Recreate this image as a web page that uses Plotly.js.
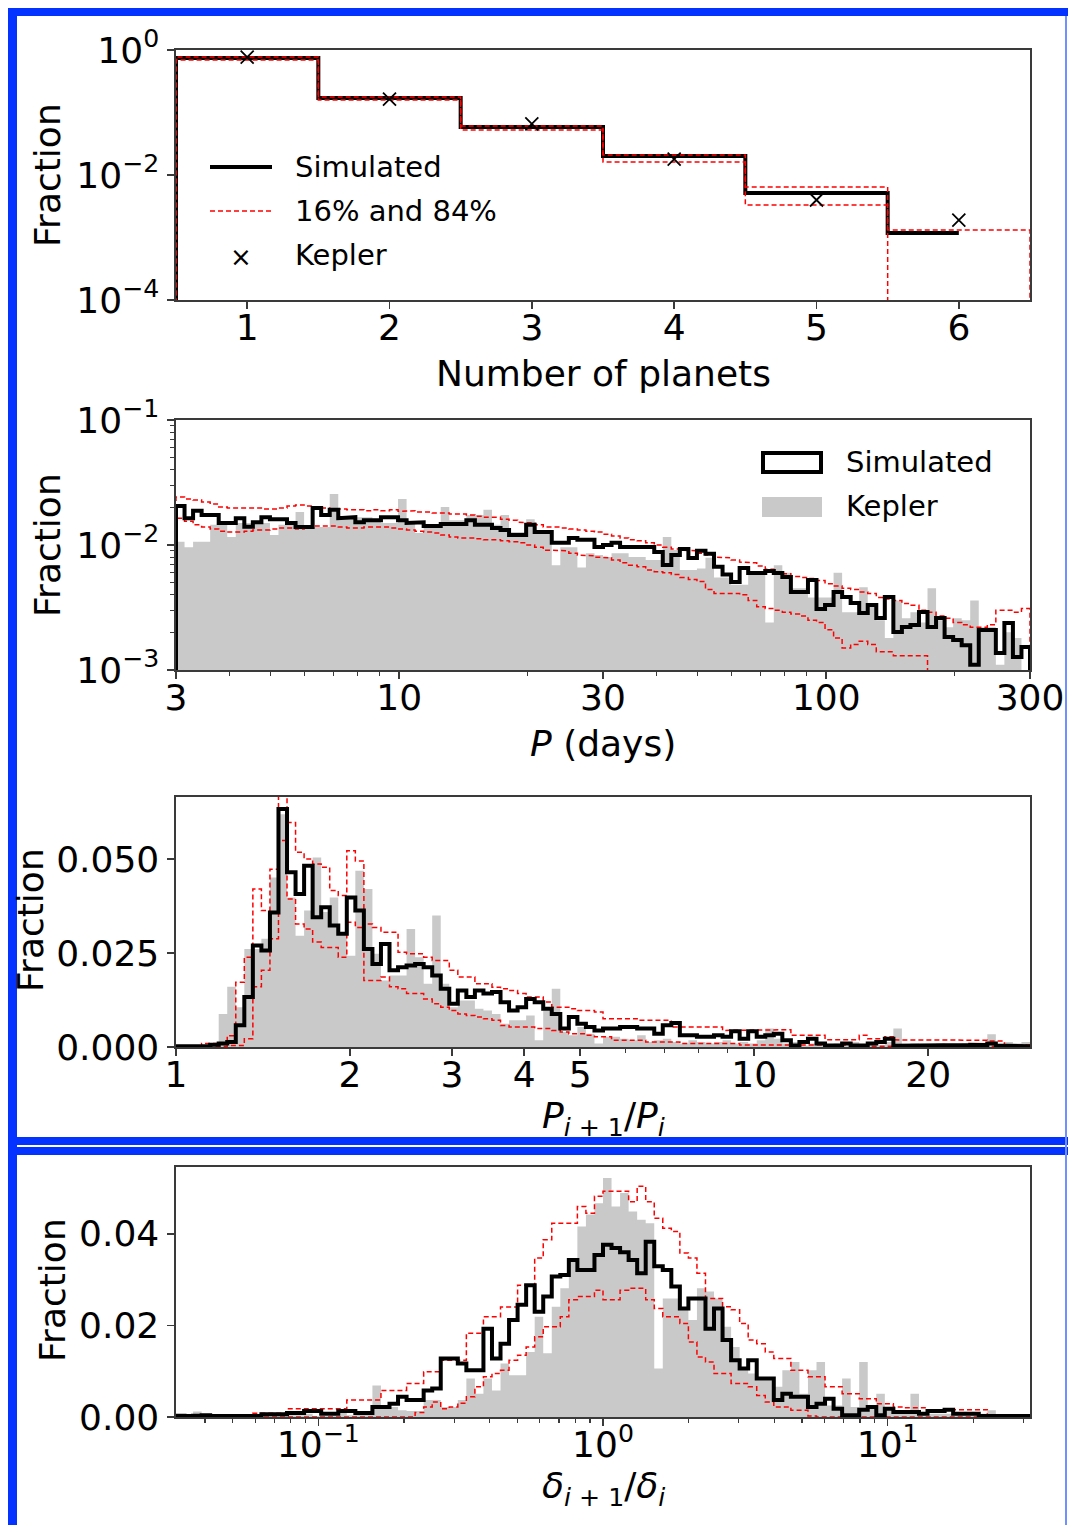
<!DOCTYPE html>
<html><head><meta charset="utf-8">
<script src="https://cdn.plot.ly/plotly-3.0.1.min.js"></script>
<style>html,body{margin:0;padding:0;background:#fff;}#chart{width:1068px;height:1525px;}</style>
</head><body><div id="chart"></div>
<script>
// ---------------- Panel 1: multiplicity ----------------
const nPlanets = [1, 2, 3, 4, 5, 6];
const multSim    = [0.745, 0.170, 0.0586, 0.0201, 0.00515, 0.00118];
const multP84    = [0.770, 0.177, 0.0608, 0.0209, 0.00643, 0.00132];
const multP16    = [0.690, 0.158, 0.0525, 0.0161, 0.00330, 0];
const multKepler = [0.770, 0.164, 0.0655, 0.0180, 0.00398, 0.0019];

// ---------------- Panel 2: periods (100 log bins, 3-300 d) ----------------
const periodRange = [3, 300];
const periodSim = [
0.0205,0.0164,0.0188,0.0174,0.0174,0.0150,0.0150,0.0164,0.0140,0.0152,
0.0167,0.0161,0.0161,0.0150,0.0139,0.0139,0.0198,0.0174,0.0191,0.0164,
0.0167,0.0152,0.0158,0.0158,0.0167,0.0167,0.0158,0.0150,0.0152,0.0142,
0.0142,0.0147,0.0147,0.0147,0.0158,0.0145,0.0145,0.0137,0.0132,0.0120,
0.0120,0.0145,0.0127,0.0127,0.0104,0.0104,0.0114,0.0110,0.0110,0.00964,
0.0100,0.0104,0.00964,0.00964,0.00964,0.00964,0.00879,0.00692,0.00832,0.00929,
0.00787,0.0090,0.0085,0.0067,0.0058,0.00506,0.00655,0.00597,0.00597,0.00619,
0.00597,0.00555,0.00421,0.00421,0.00525,0.00308,0.00331,0.00421,0.00384,0.00344,
0.00286,0.00331,0.00261,0.00384,0.00201,0.00221,0.00229,0.00291,0.00221,0.00261,
0.00184,0.00174,0.00158,0.00110,0.00209,0.00209,0.00137,0.00238,0.00127,0.00153];
const periodP84 = [
0.0242,0.0233,0.0229,0.0221,0.0213,0.0201,0.0198,0.0198,0.0198,0.0198,
0.0194,0.0194,0.0198,0.0205,0.0209,0.0205,0.0198,0.0198,0.0194,0.0194,
0.0191,0.0191,0.0188,0.0191,0.0188,0.0191,0.0186,0.0188,0.0184,0.0184,
0.0180,0.0180,0.0177,0.0177,0.0174,0.0170,0.0167,0.0167,0.0161,0.0158,
0.0152,0.0150,0.0145,0.0139,0.0139,0.0137,0.0134,0.0132,0.0129,0.0127,
0.0122,0.0118,0.0114,0.0110,0.0108,0.0104,0.0100,0.0096,0.0093,0.0091,
0.0090,0.0086,0.0083,0.0080,0.0079,0.0076,0.0073,0.0072,0.0068,0.0064,
0.0061,0.0059,0.0056,0.0055,0.0054,0.0052,0.0049,0.0047,0.0045,0.0044,
0.0042,0.0041,0.0038,0.0037,0.0036,0.0034,0.0033,0.0030,0.0029,0.0027,
0.0026,0.0024,0.0023,0.0022,0.0022,0.0023,0.0030,0.0030,0.0029,0.0031];
const periodP16 = [
0.0164,0.0155,0.0145,0.0139,0.0134,0.0129,0.0127,0.0127,0.0129,0.0132,
0.0132,0.0134,0.0137,0.0137,0.0134,0.0137,0.0142,0.0142,0.0142,0.0139,
0.0137,0.0137,0.0139,0.0139,0.0139,0.0137,0.0134,0.0132,0.0129,0.0127,
0.0125,0.0120,0.0116,0.0114,0.0114,0.0112,0.0110,0.0110,0.0108,0.0106,
0.0104,0.0100,0.0096,0.0091,0.0091,0.0090,0.0086,0.0083,0.0082,0.0080,
0.0079,0.0076,0.0072,0.0069,0.0067,0.0063,0.0061,0.0060,0.0058,0.0055,
0.0053,0.0051,0.0044,0.0041,0.0041,0.0041,0.0040,0.0036,0.0032,0.0031,
0.0030,0.0029,0.0028,0.0027,0.0025,0.0024,0.0021,0.0018,0.0015,0.0016,
0.0017,0.0016,0.0014,0.0014,0.0013,0.0013,0.0013,0.0013,0,0,
0,0,0,0,0,0,0,0,0,0];
const periodKepler = [
0.0106,0.0096,0.0106,0.0106,0.0145,0.0145,0.0116,0.0150,0.0150,0.0150,
0.0150,0.0120,0.0145,0.0145,0.0184,0.0139,0.0139,0.0139,0.0256,0.0164,
0.0164,0.0167,0.0167,0.0158,0.0150,0.0150,0.0233,0.0150,0.0125,0.0145,
0.0145,0.0201,0.0158,0.0158,0.0174,0.0174,0.0191,0.0145,0.0174,0.0127,
0.0127,0.0161,0.0127,0.0127,0.0069,0.0096,0.0096,0.0066,0.0086,0.0083,
0.0080,0.0086,0.0086,0.0080,0.0080,0.0076,0.0076,0.0116,0.0091,0.0063,
0.0063,0.0065,0.0079,0.0055,0.0055,0.0048,0.0048,0.0060,0.0060,0.0024,
0.0069,0.0060,0.0045,0.0045,0.0038,0.0038,0.0038,0.0060,0.0029,0.0029,
0.0046,0.0032,0.0025,0.0018,0.0036,0.0026,0.0029,0.0024,0.0045,0.0025,
0.0022,0.0026,0.0025,0.0036,0.0022,0.0022,0.0011,0.0020,0.0018,0.0010];

// ---------------- Panel 3: period ratios (100 log bins, 1-30) ----------------
const ratioRange = [1, 30];
const ratioSim = [
0.0002,0.0002,0.0002,0.0002,0.0006,0.0009,0.0013,0.0058,0.0133,0.0270,
0.0257,0.0358,0.0633,0.0465,0.0407,0.0482,0.0345,0.0372,0.0323,0.0301,
0.0398,0.0363,0.0261,0.0221,0.0274,0.0204,0.0212,0.0217,0.0221,0.0212,
0.0190,0.0155,0.0115,0.0150,0.0133,0.0150,0.0142,0.0146,0.0119,0.0097,
0.0106,0.0128,0.0119,0.0102,0.0088,0.0049,0.0080,0.0062,0.0053,0.0044,
0.0049,0.0049,0.0053,0.0053,0.0049,0.0049,0.0035,0.0058,0.0064,0.0031,
0.0031,0.0027,0.0027,0.0031,0.0027,0.0042,0.0022,0.0042,0.0027,0.0031,
0.0035,0.0018,0.0004,0.0013,0.0022,0.0009,0.0004,0.0004,0.0009,0.0004,
0.0004,0.0009,0.0013,0.0022,0.0003,0.0004,0.0004,0.0004,0.0005,0.0004,
0.0004,0.0004,0.0005,0.0006,0.0005,0.0009,0.0004,0.0003,0.0003,0.0002];
const ratioP84 = [
0.0002,0.0002,0.0003,0.0009,0.0009,0.0009,0.0030,0.0172,0.0239,0.0420,
0.0363,0.0473,0.0680,0.0597,0.0518,0.0500,0.0487,0.0478,0.0416,0.0403,
0.0522,0.0495,0.0327,0.0318,0.0305,0.0305,0.0252,0.0248,0.0248,0.0239,
0.0230,0.0230,0.0204,0.0186,0.0186,0.0168,0.0168,0.0159,0.0155,0.0150,
0.0142,0.0133,0.0133,0.0120,0.0106,0.0106,0.0102,0.0097,0.0097,0.0093,
0.0075,0.0075,0.0075,0.0075,0.0071,0.0071,0.0071,0.0071,0.0053,0.0053,
0.0053,0.0053,0.0053,0.0053,0.0044,0.0044,0.0044,0.0044,0.0044,0.0044,
0.0046,0.0046,0.0031,0.0031,0.0031,0.0031,0.0019,0.0019,0.0019,0.0019,
0.0031,0.0022,0.0022,0.0027,0.0019,0.0019,0.0019,0.0019,0.0019,0.0018,
0.0018,0.0018,0.0018,0.0018,0.0018,0.0016,0.0016,0.0005,0.0005,0.0005];
const ratioP16 = [
0.0001,0.0001,0.0001,0.0001,0.0001,0.0002,0.0004,0.0004,0.0022,0.0160,
0.0204,0.0288,0.0549,0.0394,0.0327,0.0314,0.0279,0.0265,0.0265,0.0239,
0.0332,0.0318,0.0177,0.0177,0.0186,0.0160,0.0155,0.0142,0.0142,0.0128,
0.0115,0.0106,0.0097,0.0088,0.0084,0.0080,0.0075,0.0071,0.0057,0.0053,
0.0053,0.0053,0.0049,0.0049,0.0044,0.0040,0.0035,0.0035,0.0031,0.0027,
0.0027,0.0018,0.0018,0.0018,0.0018,0.0013,0.0013,0.0013,0.0013,0.0009,
0.0009,0.0009,0.0009,0.0009,0.0009,0.0009,0.0005,0.0005,0.0005,0.0005,
0.0005,0.0005,0.0005,0.0005,0.0005,0.0005,0.0005,0.0005,0.0005,0.0005,
0.0005,0.0002,0.0002,0.0002,0.0002,0.0002,0.0002,0.0002,0.0002,0.0002,
0.0002,0.0002,0.0002,0.0002,0.0002,0.0002,0.0002,0.0002,0.0002,0.0002];
const ratioKepler = [
0.0003,0.0003,0.0002,0.0003,0.0009,0.0088,0.0160,0.0106,0.0261,0.0261,
0.0288,0.0451,0.0619,0.0398,0.0296,0.0363,0.0504,0.0359,0.0398,0.0301,
0.0243,0.0469,0.0420,0.0248,0.0177,0.0190,0.0190,0.0314,0.0239,0.0168,
0.0350,0.0168,0.0106,0.0124,0.0124,0.0102,0.0097,0.0088,0.0062,0.0071,
0.0071,0.0084,0.0018,0.0097,0.0155,0.0040,0.0031,0.0053,0.0035,0.0009,
0.0027,0.0027,0.0022,0.0018,0.0031,0.0013,0.0018,0.0022,0.0013,0.0009,
0.0018,0.0013,0.0009,0.0013,0.0018,0.0009,0.0013,0.0009,0.0018,0.0049,
0.0022,0.0009,0.0013,0.0004,0.0009,0.0013,0.0004,0.0009,0.0004,0.0013,
0.0004,0.0009,0.0004,0.0013,0.0049,0.0004,0.0009,0.0004,0.0004,0.0009,
0.0004,0.0004,0.0009,0.0004,0.0004,0.0034,0.0004,0.0013,0.0009,0.0013];

// ---------------- Panel 4: depth ratios (100 log bins, 10^-1.5 - 10^1.5) ----------------
const deltaRange = [0.0316228, 31.6228];
const deltaSim = [
0.0003,0.0002,0.0003,0.0004,0.0002,0.0002,0.0004,0.0004,0.0002,0.0002,
0.0006,0.0006,0.0006,0.0009,0.0009,0.0013,0.0013,0.0007,0.0007,0.0013,
0.0013,0.0009,0.0009,0.0022,0.0022,0.0029,0.0044,0.0037,0.0037,0.0058,
0.0062,0.0128,0.0128,0.0117,0.0102,0.0102,0.0193,0.0128,0.0160,0.0212,
0.0245,0.0288,0.0230,0.0263,0.0307,0.0310,0.0343,0.0321,0.0321,0.0354,
0.0376,0.0369,0.0360,0.0343,0.0314,0.0383,0.0329,0.0321,0.0285,0.0237,
0.0259,0.0259,0.0193,0.0237,0.0168,0.0124,0.0106,0.0124,0.0084,0.0084,
0.0037,0.0051,0.0044,0.0044,0.0022,0.0029,0.0040,0.0018,0.0004,0.0004,
0.0016,0.0022,0.0004,0.0018,0.0011,0.0011,0.0011,0.0007,0.0013,0.0013,
0.0016,0.0007,0.0007,0.0007,0.0002,0.0002,0.0002,0.0002,0.0002,0.0002];
const deltaP84 = [
0.0003,0.0003,0.0003,0.0003,0.0003,0.0003,0.0003,0.0003,0.0003,0.0008,
0.0008,0.0008,0.0008,0.0018,0.0018,0.0018,0.0018,0.0018,0.0018,0.0018,
0.0037,0.0037,0.0037,0.0037,0.0058,0.0058,0.0058,0.0073,0.0073,0.0099,
0.0099,0.0124,0.0124,0.0124,0.0183,0.0183,0.0219,0.0219,0.0240,0.0240,
0.0288,0.0288,0.0347,0.0387,0.0423,0.0423,0.0423,0.0460,0.0445,0.0482,
0.0493,0.0493,0.0493,0.0470,0.0504,0.0470,0.0434,0.0412,0.0405,0.0358,
0.0347,0.0314,0.0259,0.0259,0.0241,0.0234,0.0204,0.0168,0.0160,0.0142,
0.0128,0.0128,0.0102,0.0102,0.0088,0.0088,0.0066,0.0066,0.0051,0.0051,
0.0040,0.0040,0.0029,0.0029,0.0022,0.0020,0.0020,0.0020,0.0016,0.0016,
0.0016,0.0016,0.0016,0.0016,0.0016,0.0004,0.0004,0.0004,0.0004,0.0004];
const deltaP16 = [
0,0,0,0,0,0,0,0,0,0,
0,0,0,0,0,0,0,0,0,0,
0,0,0,0,0,0,0,0,0.0010,0.0022,
0.0033,0.0018,0.0022,0.0030,0.0044,0.0066,0.0088,0.0095,0.0102,0.0124,
0.0135,0.0153,0.0175,0.0197,0.0197,0.0219,0.0256,0.0263,0.0263,0.0277,
0.0256,0.0256,0.0277,0.0281,0.0281,0.0256,0.0237,0.0219,0.0219,0.0204,
0.0164,0.0131,0.0120,0.0095,0.0095,0.0073,0.0073,0.0066,0.0047,0.0033,
0.0022,0.0022,0.0015,0.0015,0.0002,0,0,0,0,0,
0,0,0,0,0,0,0,0,0,0,
0,0,0,0,0,0,0,0,0,0];
const deltaKepler = [
0.0004,0.0006,0.0012,0.0006,0.0002,0.0004,0.0003,0.0003,0.0002,0.0003,
0.0009,0.0010,0.0007,0.0004,0.0004,0.0007,0.0002,0.0002,0.0004,0.0009,
0.0004,0.0007,0.0009,0.0069,0.0022,0.0022,0.0015,0.0013,0.0013,0.0037,
0.0037,0.0022,0.0022,0.0037,0.0084,0.0051,0.0084,0.0058,0.0117,0.0091,
0.0091,0.0142,0.0219,0.0139,0.0241,0.0281,0.0343,0.0416,0.0442,0.0467,
0.0522,0.0460,0.0489,0.0449,0.0431,0.0423,0.0106,0.0259,0.0259,0.0234,
0.0212,0.0281,0.0274,0.0259,0.0197,0.0153,0.0109,0.0095,0.0080,0.0080,
0.0066,0.0102,0.0120,0.0051,0.0102,0.0120,0.0025,0.0025,0.0084,0.0022,
0.0120,0.0018,0.0051,0.0018,0.0011,0.0011,0.0051,0.0007,0.0007,0.0007,
0.0007,0.0007,0.0007,0.0011,0.0007,0.0015,0.0006,0.0006,0.0006,0.0006];

// ---------------- helpers ----------------
const W = 1068, H = 1525;
const FONT = 'DejaVu Sans';
const BLUE = '#0433ff';
const GRAY = '#c9c9c9';
const RED = '#ff0000';
const px = x => x / W;
const py = y => 1 - y / H;

function logEdges(range, n) {
  const a = Math.log10(range[0]), b = Math.log10(range[1]);
  const e = [];
  for (let i = 0; i <= n; i++) e.push(Math.pow(10, a + (b - a) * i / n));
  return e;
}
function outline(edges, vals, floor, closeEnd) {
  const x = [edges[0]], y = [floor];
  vals.forEach((v, i) => {
    const vv = v > 0 ? v : floor;
    x.push(edges[i], edges[i + 1]); y.push(vv, vv);
  });
  if (closeEnd) { x.push(edges[vals.length]); y.push(floor); }
  return {x, y};
}
function lineTrace(o, xa, ya, color, width, dash) {
  return {type: 'scatter', mode: 'lines', x: o.x, y: o.y, xaxis: xa, yaxis: ya,
    line: {color, width, dash: dash || 'solid', shape: 'linear'}, hoverinfo: 'skip', showlegend: false};
}
function fillTrace(o, xa, ya) {
  return {type: 'scatter', mode: 'lines', x: o.x, y: o.y, xaxis: xa, yaxis: ya,
    fill: 'toself', fillcolor: GRAY, line: {width: 0, color: GRAY}, hoverinfo: 'skip', showlegend: false};
}
const DASH = '5px,3px';

const multEdgesSim = nPlanets.map(n => n - 0.5).concat([nPlanets[nPlanets.length - 1]]);
const multEdgesFull = nPlanets.map(n => n - 0.5).concat([nPlanets[nPlanets.length - 1] + 0.5]);
const LOGFLOOR1 = 1e-7, LOGFLOOR2 = 1e-6;

const pEdges = logEdges(periodRange, periodSim.length);
const rEdges = logEdges(ratioRange, ratioSim.length);
const dEdges = logEdges(deltaRange, deltaSim.length);

const traces = [
  lineTrace(outline(multEdgesSim, multSim, LOGFLOOR1, false), 'x', 'y', '#000', 4),
  lineTrace(outline(multEdgesFull, multP84, LOGFLOOR1, true), 'x', 'y', RED, 1.5, DASH),
  lineTrace(outline(multEdgesFull, multP16, LOGFLOOR1, true), 'x', 'y', RED, 1.5, DASH),
  {type: 'scatter', mode: 'markers', x: nPlanets, y: multKepler, xaxis: 'x', yaxis: 'y',
   marker: {symbol: 'x-thin', size: 13, color: '#000', line: {color: '#000', width: 1.8}},
   hoverinfo: 'skip', showlegend: false, cliponaxis: false},
  fillTrace(outline(pEdges, periodKepler, LOGFLOOR2, true), 'x2', 'y2'),
  lineTrace(outline(pEdges, periodP84, LOGFLOOR2, true), 'x2', 'y2', RED, 1.5, DASH),
  lineTrace(outline(pEdges, periodP16, LOGFLOOR2, true), 'x2', 'y2', RED, 1.5, DASH),
  lineTrace(outline(pEdges, periodSim, LOGFLOOR2, true), 'x2', 'y2', '#000', 4),
  fillTrace(outline(rEdges, ratioKepler, 0, true), 'x3', 'y3'),
  lineTrace(outline(rEdges, ratioP84, 0, true), 'x3', 'y3', RED, 1.5, DASH),
  lineTrace(outline(rEdges, ratioP16, 0, true), 'x3', 'y3', RED, 1.5, DASH),
  lineTrace(outline(rEdges, ratioSim, 0, true), 'x3', 'y3', '#000', 4),
  fillTrace(outline(dEdges, deltaKepler, 0, true), 'x4', 'y4'),
  lineTrace(outline(dEdges, deltaP84, 0, true), 'x4', 'y4', RED, 1.5, DASH),
  lineTrace(outline(dEdges, deltaP16, 0, true), 'x4', 'y4', RED, 1.5, DASH),
  lineTrace(outline(dEdges, deltaSim, 0, true), 'x4', 'y4', '#000', 4)
];

const SPINE = '#3a3a3a';
function ax(extra) {
  return Object.assign({
    showline: true, mirror: true, linecolor: SPINE, linewidth: 1.6,
    ticks: 'outside', ticklen: 7, tickwidth: 1.6, tickcolor: SPINE,
    showgrid: false, zeroline: false, fixedrange: true,
    tickfont: {family: FONT, size: 36, color: '#000'}
  }, extra);
}
function xax(extra) { return ax(Object.assign({ticklabelstandoff: -12}, extra)); }
function yax(extra) { return ax(Object.assign({ticklabelstandoff: 1}, extra)); }
function minor(vals) {
  return {tickmode: 'array', tickvals: vals, ticks: 'outside', ticklen: 4, tickwidth: 1.2, tickcolor: SPINE, showgrid: false};
}
const XDOM = [px(176), px(1030)];
const sup = e => '10<sup>' + e + '</sup>';

const layout = {
  width: W, height: H, autosize: false,
  margin: {l: 0, r: 0, t: 0, b: 0, pad: 0},
  paper_bgcolor: '#fff', plot_bgcolor: '#fff',
  font: {family: FONT, color: '#000'},
  showlegend: false,
  xaxis: xax({domain: XDOM, anchor: 'y', range: [0.5, 6.5], tickmode: 'array', tickvals: nPlanets, ticktext: nPlanets.map(String)}),
  yaxis: yax({domain: [py(300), py(50)], anchor: 'x', type: 'log', range: [-4, 0],
    tickmode: 'array', tickvals: [1e-4, 1e-2, 1], ticktext: [sup('−4'), sup('−2'), sup('0')]}),
  xaxis2: xax({domain: XDOM, anchor: 'y2', type: 'log', range: [Math.log10(periodRange[0]), Math.log10(periodRange[1])],
    tickmode: 'array', tickvals: [3, 10, 30, 100, 300], ticktext: ['3', '10', '30', '100', '300'],
    minor: minor([4, 5, 6, 7, 8, 9, 20, 40, 50, 60, 70, 80, 90, 200])}),
  yaxis2: yax({domain: [py(670), py(420)], anchor: 'x2', type: 'log', range: [-3, -1],
    tickmode: 'array', tickvals: [1e-3, 1e-2, 1e-1], ticktext: [sup('−3'), sup('−2'), sup('−1')],
    minor: minor([0.002, 0.003, 0.004, 0.005, 0.006, 0.007, 0.008, 0.009, 0.02, 0.03, 0.04, 0.05, 0.06, 0.07, 0.08, 0.09])}),
  xaxis3: xax({domain: XDOM, anchor: 'y3', type: 'log', range: [Math.log10(ratioRange[0]), Math.log10(ratioRange[1])],
    tickmode: 'array', tickvals: [1, 2, 3, 4, 5, 10, 20], ticktext: ['1', '2', '3', '4', '5', '10', '20'],
    minor: minor([6, 7, 8, 9])}),
  yaxis3: yax({domain: [py(1047), py(797)], anchor: 'x3', range: [0, 0.0665],
    tickmode: 'array', tickvals: [0, 0.025, 0.05], ticktext: ['0.000', '0.025', '0.050']}),
  xaxis4: xax({domain: XDOM, anchor: 'y4', type: 'log', range: [Math.log10(deltaRange[0]), Math.log10(deltaRange[1])],
    tickmode: 'array', tickvals: [0.1, 1, 10], ticktext: [sup('−1'), sup('0'), sup('1')],
    minor: minor([0.04, 0.05, 0.06, 0.07, 0.08, 0.09, 0.2, 0.3, 0.4, 0.5, 0.6, 0.7, 0.8, 0.9, 2, 3, 4, 5, 6, 7, 8, 9, 20, 30])}),
  yaxis4: yax({domain: [py(1417), py(1167)], anchor: 'x4', range: [0, 0.0546],
    tickmode: 'array', tickvals: [0, 0.02, 0.04], ticktext: ['0.00', '0.02', '0.04']}),
  shapes: [],
  annotations: []
};

function rect(x0, y0, x1, y1, fill, lineColor, lineWidth) {
  return {type: 'rect', xref: 'paper', yref: 'paper', x0: px(x0), x1: px(x1), y0: py(y1), y1: py(y0),
    fillcolor: fill || 'rgba(0,0,0,0)', line: {color: lineColor || 'rgba(0,0,0,0)', width: lineWidth || 0}, layer: 'above'};
}
function hline(x0, x1, y, color, width, dash) {
  return {type: 'line', xref: 'paper', yref: 'paper', x0: px(x0), x1: px(x1), y0: py(y), y1: py(y),
    line: {color, width, dash: dash || 'solid'}, layer: 'above'};
}
function txt(x, y, text, size, xanchor, angle) {
  return {xref: 'paper', yref: 'paper', x: px(x), y: py(y), text, showarrow: false,
    xanchor: xanchor || 'center', yanchor: 'middle', textangle: angle || 0,
    font: {family: FONT, size, color: '#000'}};
}

// blue frame
layout.shapes.push(rect(8, 8, 1068, 16, BLUE));
layout.shapes.push(rect(8, 8, 17, 1525, BLUE));
layout.shapes.push(rect(17, 1137, 1068, 1145, BLUE));
layout.shapes.push(rect(17, 1147, 1068, 1155, BLUE));
layout.shapes.push(rect(1065, 16, 1067, 1525, '#7090ff'));

// panel 1 legend
layout.shapes.push(hline(210, 272, 167, '#000', 4));
layout.shapes.push(hline(210, 272, 211, RED, 1.5, DASH));
layout.annotations.push(txt(241, 257, '×', 26));
layout.annotations.push(txt(293, 167, 'Simulated', 29, 'left'));
layout.annotations.push(txt(293, 211, '16% and 84%', 29, 'left'));
layout.annotations.push(txt(293, 255, 'Kepler', 29, 'left'));

// panel 2 legend
layout.shapes.push(rect(763, 453, 821, 472, 'rgba(0,0,0,0)', '#000', 4));
layout.shapes.push(rect(762, 497, 822, 517, GRAY));
layout.annotations.push(txt(844, 462, 'Simulated', 29, 'left'));
layout.annotations.push(txt(844, 506, 'Kepler', 29, 'left'));

// axis titles
layout.annotations.push(txt(603, 373, 'Number of planets', 36));
layout.annotations.push(txt(47, 175, 'Fraction', 36, 'center', -90));
layout.annotations.push(txt(603, 743, '<i>P</i> (days)', 36));
layout.annotations.push(txt(47, 545, 'Fraction', 36, 'center', -90));
layout.annotations.push(txt(603, 1118, '<i>P</i><sub><i>i</i> + 1</sub>/<i>P</i><sub><i>i</i></sub>', 36));
layout.annotations.push(txt(30, 920, 'Fraction', 36, 'center', -90));
layout.annotations.push(txt(603, 1488, '<i>δ</i><sub><i>i</i> + 1</sub>/<i>δ</i><sub><i>i</i></sub>', 36));
layout.annotations.push(txt(52, 1290, 'Fraction', 36, 'center', -90));

Plotly.newPlot('chart', traces, layout, {displayModeBar: false, staticPlot: true});
</script></body></html>
